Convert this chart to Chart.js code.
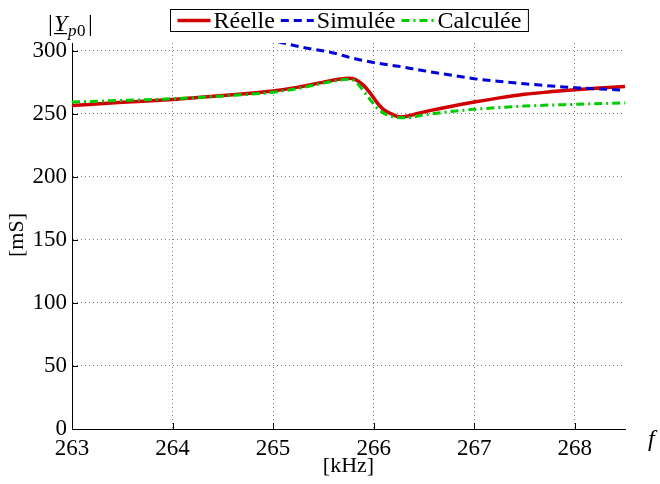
<!DOCTYPE html>
<html>
<head>
<meta charset="utf-8">
<script src="https://cdn.jsdelivr.net/npm/chart.js@4.4.1/dist/chart.umd.min.js"></script>
<style>
  html, body { margin: 0; background: #fff; }
</style>
</head>
<body>
<canvas id="chart" width="660" height="484"></canvas>
<script>
// Données
var xTicks = [263, 264, 265, 266, 267, 268];
var yTicks = [0, 50, 100, 150, 200, 250, 300];

var freqReelle = [263, 263.5, 264, 264.5, 265, 265.25, 265.5, 265.67, 265.75, 265.82, 265.9, 265.97, 266.03, 266.1, 266.17, 266.27, 266.37, 266.47, 266.57, 266.75, 267, 267.25, 267.5, 267.75, 268, 268.25, 268.5];
var yReelle = [256.5, 259, 261.3, 264.3, 268, 271, 275, 277.5, 278, 277, 272.4, 265.8, 259.2, 253.2, 250, 247.3, 248.7, 250.8, 252.6, 255.5, 259.2, 262.5, 265.3, 267.3, 269, 270.4, 271.6];

var freqSimulee = [265.05, 265.3, 265.57, 265.8, 266, 266.25, 266.5, 266.75, 267, 267.5, 268, 268.5];
var ySimulee = [307, 302.5, 298.7, 293.8, 290.5, 287.5, 284, 280.8, 277.7, 273.7, 270.6, 268.6];

var freqCalculee = [263, 263.5, 264, 264.5, 265, 265.25, 265.5, 265.7, 265.77, 265.84, 265.94, 266.05, 266.2, 266.33, 266.53, 266.75, 267, 267.5, 268, 268.5];
var yCalculee = [259.2, 260.5, 261.8, 264, 267, 270, 274.2, 277, 277.3, 273.7, 263.7, 253.2, 247.3, 246.8, 249.4, 251.5, 253.4, 256, 257.4, 258.5];

var serif = "'Liberation Serif', 'DejaVu Serif', serif";

function points(xs, ys) {
    return xs.map(function (x, i) { return { x: x, y: ys[i] }; });
}

// Légende encadrée, petites graduations intérieures et libellés
var decorPlugin = {
    id: 'decor',
    afterDraw: function (chart) {
        var ctx = chart.ctx;
        var area = chart.chartArea;
        var sx = chart.scales.x, sy = chart.scales.y;

        ctx.save();
        // graduations vers l'intérieur
        ctx.strokeStyle = '#000';
        ctx.lineWidth = 1;
        ctx.beginPath();
        xTicks.forEach(function (v) {
            var px = Math.round(sx.getPixelForValue(v)) + 0.5;
            ctx.moveTo(px, area.bottom);
            ctx.lineTo(px, area.bottom - 6);
        });
        yTicks.forEach(function (v) {
            var py = Math.round(sy.getPixelForValue(v)) + 0.5;
            ctx.moveTo(area.left, py);
            ctx.lineTo(area.left + 6, py);
        });
        ctx.stroke();

        // légende
        ctx.font = '24px ' + serif;
        ctx.textBaseline = 'middle';
        var sample = 33, gap = 3, spacing = 6, pad = 7;
        var items = chart.data.datasets.slice().sort(function (a, b) { return b.order - a.order; });
        var total = 0;
        items.forEach(function (d, i) {
            total += sample + gap + ctx.measureText(d.label).width + (i < items.length - 1 ? spacing : 0);
        });
        var boxW = total + 2 * pad;
        var boxX = Math.round((area.left + area.right) / 2 - boxW / 2) + 0.5;
        var boxY = 9.5, boxH = 22;
        ctx.fillStyle = '#fff';
        ctx.fillRect(boxX, boxY, boxW, boxH);
        ctx.strokeStyle = '#000';
        ctx.lineWidth = 1;
        ctx.strokeRect(boxX, boxY, boxW, boxH);
        var cx = boxX + pad;
        var cy = boxY + boxH / 2;
        items.forEach(function (d) {
            ctx.save();
            ctx.strokeStyle = d.borderColor;
            ctx.lineWidth = d.borderWidth;
            ctx.setLineDash(d.borderDash || []);
            ctx.beginPath();
            ctx.moveTo(cx, cy);
            ctx.lineTo(cx + sample, cy);
            ctx.stroke();
            ctx.restore();
            cx += sample + gap;
            ctx.fillStyle = '#000';
            ctx.textAlign = 'left';
            ctx.fillText(d.label, cx, cy + 1);
            cx += ctx.measureText(d.label).width + spacing;
        });

        // |Y_p0| en haut à gauche
        ctx.fillStyle = '#000';
        ctx.textBaseline = 'alphabetic';
        ctx.textAlign = 'left';
        ctx.font = '24px ' + serif;
        ctx.fillText('|', 48, 31);
        ctx.font = 'italic 24px ' + serif;
        ctx.fillText('Y', 54, 31);
        ctx.fillRect(54, 33, 13, 1.2);
        ctx.font = 'italic 17px ' + serif;
        ctx.fillText('p', 68, 36);
        ctx.font = '17px ' + serif;
        ctx.fillText('0', 77, 36);
        ctx.font = '24px ' + serif;
        ctx.fillText('|', 88, 31);

        // f en bout d'axe
        ctx.font = 'italic 24px ' + serif;
        ctx.fillText('f', 648, 446);

        // unités
        ctx.font = '22px ' + serif;
        ctx.textAlign = 'center';
        ctx.textBaseline = 'middle';
        ctx.fillText('[kHz]', (area.left + area.right) / 2, 466);
        ctx.translate(17, 235);
        ctx.rotate(-Math.PI / 2);
        ctx.fillText('[mS]', 0, 0);
        ctx.restore();
    }
};

var ctx = document.getElementById('chart').getContext('2d');
var chart = new Chart(ctx, {
    type: 'line',
    data: {
        datasets: [{
            label: 'Réelle',
            data: points(freqReelle, yReelle),
            borderColor: '#d00000',
            borderWidth: 3.5,
            order: 3
        }, {
            label: 'Simulée',
            data: points(freqSimulee, ySimulee),
            borderColor: '#0000d8',
            borderWidth: 3,
            borderDash: [8, 5],
            order: 2
        }, {
            label: 'Calculée',
            data: points(freqCalculee, yCalculee),
            borderColor: '#00cc00',
            borderWidth: 3,
            borderDash: [8, 4, 2, 4],
            order: 1
        }]
    },
    options: {
        responsive: false,
        animation: false,
        devicePixelRatio: 1,
        layout: { padding: { top: 43, right: 35, left: 0, bottom: 0 } },
        elements: {
            point: { radius: 0 },
            line: { cubicInterpolationMode: 'monotone', fill: false }
        },
        plugins: {
            legend: { display: false },
            title: { display: false },
            tooltip: { enabled: false }
        },
        scales: {
            x: {
                type: 'linear',
                min: 263,
                max: 268.5,
                afterBuildTicks: function (scale) {
                    scale.ticks = xTicks.map(function (v) { return { value: v }; });
                },
                afterFit: function (scale) { scale.height = 55; },
                grid: { color: '#808080', lineWidth: 1, drawTicks: false },
                border: { color: '#000', width: 1, dash: [1, 3] },
                ticks: {
                    color: '#000',
                    font: { family: serif, size: 23 },
                    padding: 6,
                    autoSkip: false,
                    maxRotation: 0
                }
            },
            y: {
                min: 0,
                max: 306,
                afterBuildTicks: function (scale) {
                    scale.ticks = yTicks.map(function (v) { return { value: v }; });
                },
                afterFit: function (scale) { scale.width = 72; },
                grid: { color: '#808080', lineWidth: 1, drawTicks: false },
                border: { color: '#000', width: 1, dash: [1, 3] },
                ticks: {
                    color: '#000',
                    font: { family: serif, size: 23 },
                    padding: 5
                }
            }
        }
    },
    plugins: [decorPlugin]
});
</script>
</body>
</html>
